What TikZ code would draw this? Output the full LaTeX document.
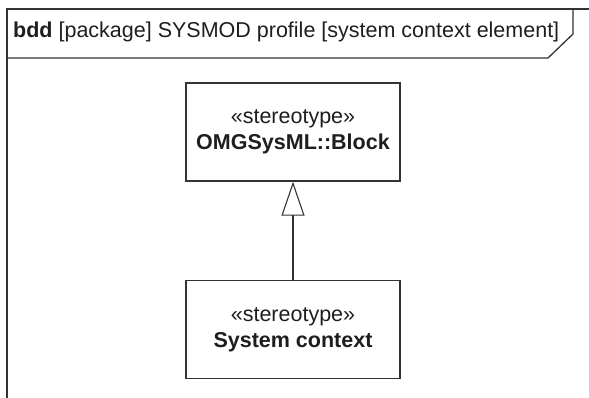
\documentclass[tikz,border=0pt]{standalone}
\usepackage{fontspec}
\setmainfont{Liberation Sans}
\usetikzlibrary{arrows.meta}
\definecolor{lineclr}{HTML}{333333}
\definecolor{textclr}{HTML}{1E1E1E}
\begin{document}
\begin{tikzpicture}[x=1pt, y=-1pt,
    blockbox/.style={draw=lineclr, line width=1.3pt, minimum width=214pt, minimum height=98pt,
        align=center, inner sep=0pt, text=textclr, font=\fontsize{21.5}{26}\selectfont},
    generalization/.style={-{Triangle[open, length=34pt, width=23pt, line width=1.1pt]}, draw=lineclr, line width=1.3pt}]
    \useasboundingbox (0,0) rectangle (589,398);

    % Frame
    \draw[lineclr, line width=1.3pt] (7,398) -- (7,9) -- (589,9);
    \draw[lineclr, line width=1.3pt] (7,58) -- (548,58) -- (573,34) -- (573,9);
    \node[anchor=base west, inner sep=0pt, text=textclr, font=\fontsize{21.5}{26}\selectfont] (title) at (13,38)
        {\textbf{bdd} [package] SYSMOD profile [system context element]};

    % Stereotypes
    \node[blockbox] (block) at (293,132) {«stereotype»\\\textbf{OMGSysML::Block}};
    \node[blockbox] (ctx) at (293,329.5) {«stereotype»\\\textbf{System context}};

    % Generalization
    \draw[generalization] (ctx) -- (block);

\end{tikzpicture}
\end{document}
